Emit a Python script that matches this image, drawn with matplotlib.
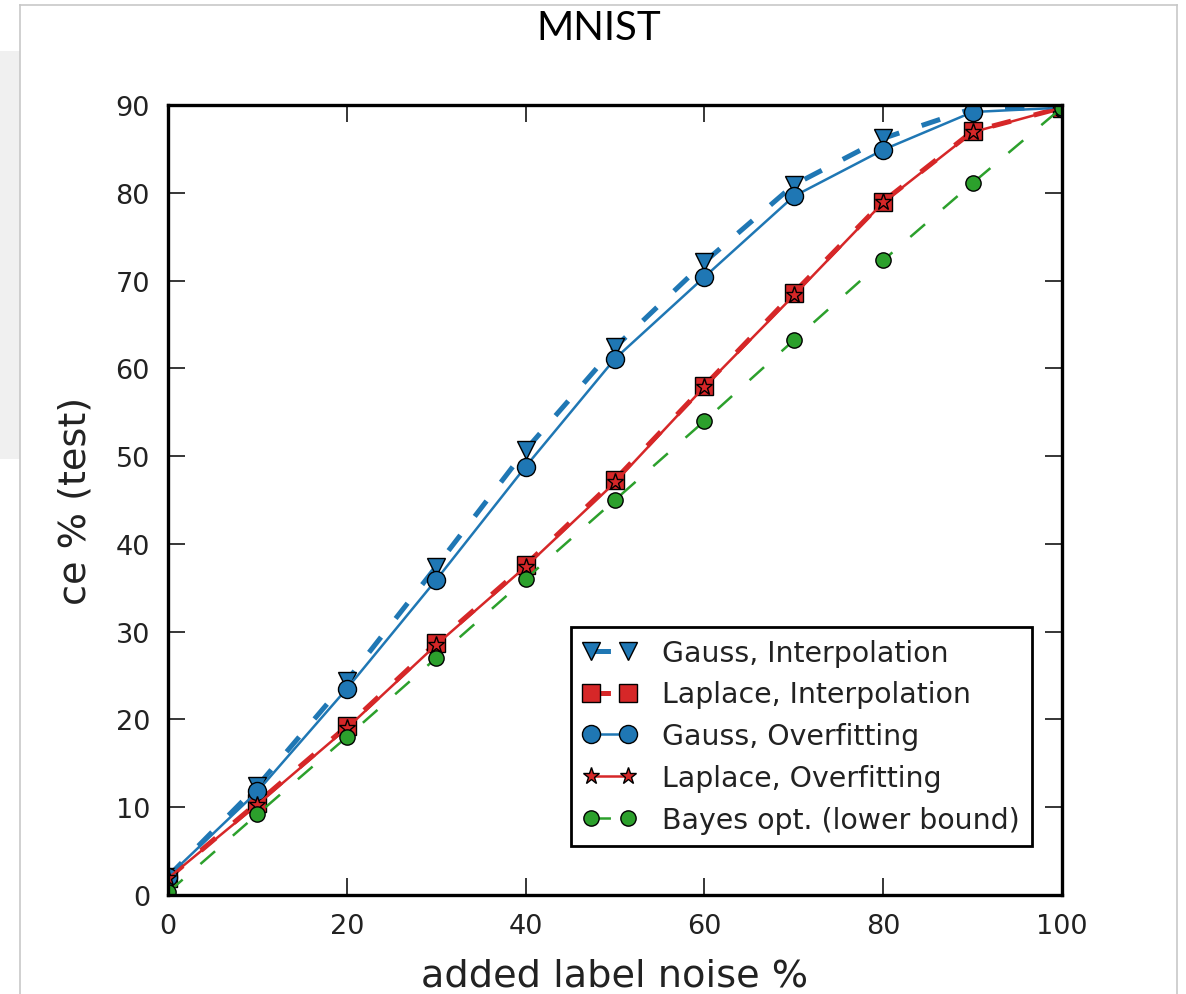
import matplotlib
matplotlib.use("Agg")
import matplotlib.pyplot as plt
from matplotlib.patches import Rectangle
from matplotlib.lines import Line2D

# data
noise = [0, 10, 20, 30, 40, 50, 60, 70, 80, 90, 100]
gauss_interp = [2.1, 12.4, 24.4, 37.4, 50.7, 62.4, 72.1, 80.9, 86.2, 89.6, 89.7]
laplace_interp = [1.9, 10.5, 19.2, 28.7, 37.6, 47.3, 58.0, 68.6, 79.0, 87.0, 89.7]
gauss_overfit = [2.1, 11.8, 23.5, 35.9, 48.8, 61.1, 70.4, 79.6, 84.9, 89.2, 89.7]
laplace_overfit = [1.9, 10.3, 19.0, 28.5, 37.4, 47.0, 57.9, 68.3, 78.9, 86.9, 89.7]
bayes_opt = [0.3, 9.2, 18.0, 27.0, 36.0, 45.0, 54.0, 63.2, 72.3, 81.1, 89.7]

labels = ["Gauss, Interpolation", "Laplace, Interpolation", "Gauss, Overfitting",
          "Laplace, Overfitting", "Bayes opt. (lower bound)"]

blue = "#1f77b4"
red = "#d62728"
green = "#2ca02c"

plt.rcParams['font.family'] = ['DejaVu Sans']
plt.rcParams['lines.scale_dashes'] = False

W, H = 1186, 995
fig = plt.figure(figsize=(W / 100, H / 100), dpi=100)

# screenshot frame: light border and grey side panel
fig.patches.append(Rectangle((0, 1 - 460 / H), 20 / W, (460 - 52) / H, transform=fig.transFigure,
                             facecolor="#f0f0f0", edgecolor="none", zorder=0))
border = "#c8c8c8"
fig.lines.append(Line2D([20 / W, 1177 / W], [1 - 6 / H, 1 - 6 / H], transform=fig.transFigure, color=border, lw=1.2))
fig.lines.append(Line2D([20 / W, 20 / W], [0, 1 - 6 / H], transform=fig.transFigure, color=border, lw=1.2))
fig.lines.append(Line2D([1177 / W, 1177 / W], [0, 1 - 6 / H], transform=fig.transFigure, color=border, lw=1.2))

fig.text(599 / W, 1 - 29 / H, "MNIST", ha="center", va="center", fontsize=29, family=["Lato", "DejaVu Sans"])

ax = fig.add_axes([168 / W, 1 - 896 / H, (1062 - 168) / W, (896 - 106) / H])

dash = (14, 17)
ax.plot(noise, gauss_interp, color=blue, lw=3.6, linestyle=(0, dash), marker="v", ms=13.5,
        mec="black", mew=1, label=labels[0])
ax.plot(noise, laplace_interp, color=red, lw=3.6, linestyle=(0, dash), marker="s", ms=12.5,
        mec="black", mew=1, label=labels[1])
ax.plot(noise, gauss_overfit, color=blue, lw=1.8, marker="o", ms=13,
        mec="black", mew=1, label=labels[2])
ax.plot(noise, laplace_overfit, color=red, lw=1.8, marker="*", ms=12.5,
        mec="black", mew=1, label=labels[3])
ax.plot(noise, bayes_opt, color=green, lw=1.8, linestyle=(0, dash), marker="o", ms=11,
        mec="black", mew=1, label=labels[4])

ax.set_xlim(0, 100)
ax.set_ylim(0, 90)
ax.set_xticks(range(0, 101, 20))
ax.set_yticks(range(0, 91, 10))
ax.tick_params(direction="in", length=12, width=1.1, top=True, right=True,
               labelsize=19.5, pad=13, color="black", labelcolor="#222222")
for s in ax.spines.values():
    s.set_linewidth(2.4)

ax.set_xlabel("added label noise %", fontsize=27.5, color="#222222", labelpad=13)
ax.set_ylabel("ce % (test)", fontsize=27.5, color="#222222", labelpad=16)

leg = ax.legend(loc="lower right", bbox_to_anchor=(0.966, 0.062), borderaxespad=0,
                numpoints=2, fontsize=20.4, fancybox=False, framealpha=1,
                edgecolor="black", handlelength=1.9, handletextpad=0.9,
                labelspacing=0.49, borderpad=0.42)
leg.get_frame().set_linewidth(2.0)
for t in leg.get_texts():
    t.set_color("#222222")

fig.savefig("out.png", dpi=100)
